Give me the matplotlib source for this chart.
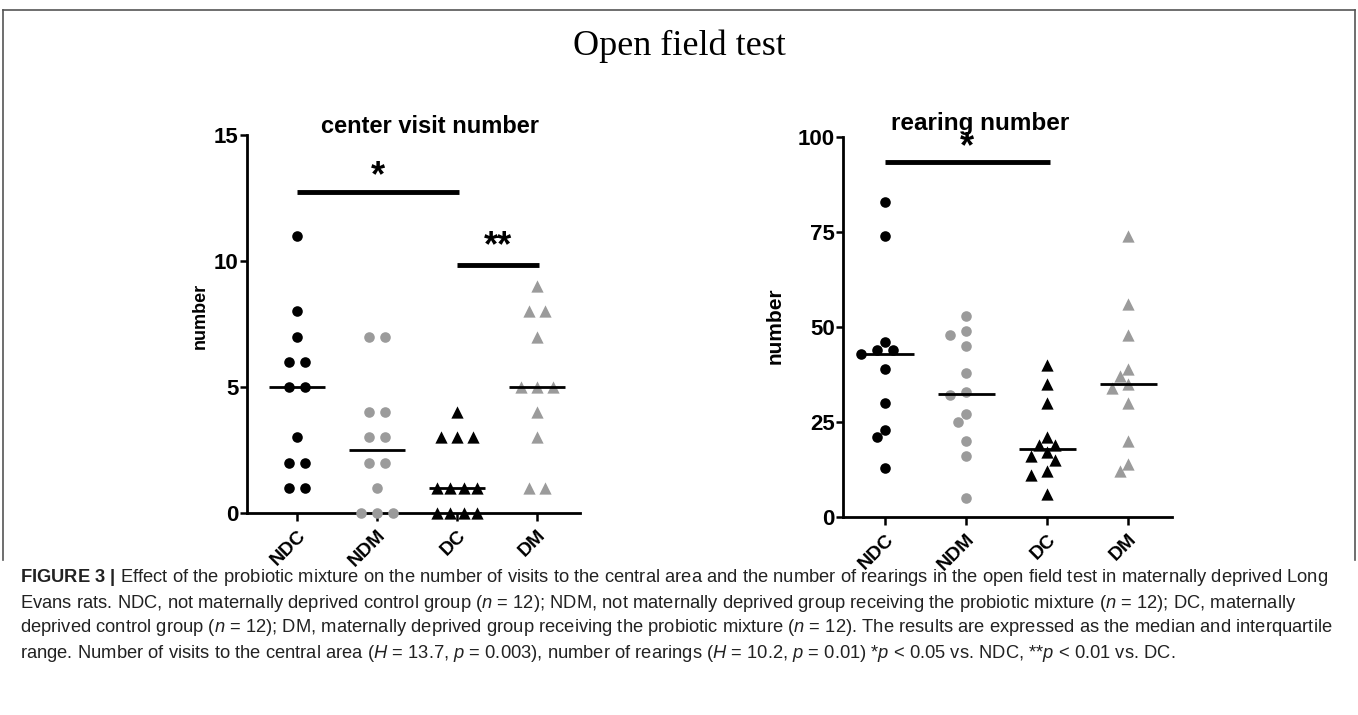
import matplotlib
matplotlib.use("Agg")
import matplotlib.pyplot as plt
import numpy as np
from matplotlib.lines import Line2D

groups = ["NDC", "NDM", "DC", "DM"]

# center visit number, one list per group
center_ndc = [11, 8, 7, 6, 6, 5, 5, 3, 2, 2, 1, 1]
center_ndm = [7, 7, 4, 4, 3, 3, 2, 2, 1, 0, 0, 0]
center_dc = [4, 3, 3, 3, 1, 1, 1, 1, 0, 0, 0, 0]
center_dm = [9, 8, 8, 7, 5, 5, 5, 4, 3, 1, 1]

# rearing number
rear_ndc = [83, 74, 46, 44, 44, 43, 39, 30, 23, 21, 13]
rear_ndm = [53, 49, 48, 45, 38, 33, 32, 27, 25, 20, 16, 5]
rear_dc = [40, 35, 30, 21, 19, 19, 17, 16, 15, 12, 11, 6]
rear_dm = [74, 56, 48, 39, 37, 35, 34, 30, 20, 14, 12]

center_ticks = [0, 5, 10, 15]
rear_ticks = [0, 25, 50, 75, 100]

GRAY = "#9b9b9b"
styles = [("o", "black"), ("o", GRAY), ("^", "black"), ("^", GRAY)]

SANS = ["Liberation Sans", "DejaVu Sans"]

plt.rcParams["font.family"] = SANS
plt.rcParams["mathtext.fontset"] = "custom"
plt.rcParams["mathtext.rm"] = "Liberation Sans"
plt.rcParams["mathtext.it"] = "Liberation Sans:italic"
plt.rcParams["mathtext.bf"] = "Liberation Sans:bold"

W, H = 1358, 715
fig = plt.figure(figsize=(W / 100, H / 100), dpi=100)


def px_axes(l, t, r, b):
    return fig.add_axes([l / W, 1 - b / H, (r - l) / W, (b - t) / H])


def swarm(ax, vals, xc, diam=10.0, step=8.0):
    # rows of equal values are centred, then nudged sideways until nothing overlaps
    tr = ax.transData.transform
    unit = tr((1, 0))[0] - tr((0, 0))[0]
    vals = np.asarray(vals, float)
    xs = np.zeros(len(vals))
    placed = []
    for v in sorted(set(vals), reverse=True):
        idx = np.where(vals == v)[0]
        k = len(idx)
        gap = 16.0 if k < 4 else 13.5
        row = (np.arange(k) - (k - 1) / 2) * gap
        py = tr((xc, v))[1]
        for n in range(40):
            shift = (n + 1) // 2 * step * (-1 if n % 2 else 1)
            cand = row + shift
            if all(np.hypot(cx - qx, py - qy) >= diam for cx in cand for qx, qy in placed):
                break
        for i, cx in zip(idx, cand):
            xs[i] = xc + cx / unit
            placed.append((cx, py))
    return xs


def panel(ax, data, ticks, xlim, ylabel_pos, ylabel_size):
    ax.set_xlim(*xlim)
    ax.set_ylim(ticks[0], ticks[-1])
    for s in ("top", "right"):
        ax.spines[s].set_visible(False)
    for s in ("left", "bottom"):
        ax.spines[s].set_linewidth(2)
    ax.set_yticks(ticks)
    ax.set_yticklabels([str(t) for t in ticks], fontsize=16, fontweight="bold")
    ax.set_xticks(range(len(groups)))
    ax.set_xticklabels(groups, rotation=45, ha="right", va="top", rotation_mode="anchor",
                       fontsize=14, fontweight="bold")
    ax.tick_params(axis="y", length=5, width=1.8, pad=1)
    ax.tick_params(axis="x", length=6, width=1.8, pad=4)
    for i, (vals, (mk, col)) in enumerate(zip(data, styles)):
        xs = swarm(ax, vals, i)
        ax.scatter(xs, vals, s=58 if mk == "o" else 78, marker=mk, color=col,
                   linewidths=0, clip_on=False, zorder=3)
        ax.hlines(np.median(vals), i - 0.35, i + 0.35, color="black", lw=2, zorder=4)
    fig.text(ylabel_pos[0] / W, 1 - ylabel_pos[1] / H, "number", rotation=90,
             ha="center", va="center", fontsize=ylabel_size, fontweight="bold")


def sig(ax, x0, x1, y, label, ystar, size):
    ax.plot([x0, x1], [y, y], color="black", lw=3.5, solid_capstyle="butt",
            clip_on=False, zorder=4)
    ax.text((x0 + x1) / 2, ystar, label, ha="center", va="center", fontsize=size,
            fontweight="bold", clip_on=False)


ax1 = px_axes(247, 135, 580, 513)
panel(ax1, [center_ndc, center_ndm, center_dc, center_dm], center_ticks,
      (-0.625, 3.54), (200, 316), 13)
sig(ax1, 0, 2.03, 12.75, "*", 13.35, 26)
sig(ax1, 2, 3.03, 9.85, "**", 10.55, 26)

ax2 = px_axes(843, 137, 1172, 517)
panel(ax2, [rear_ndc, rear_ndm, rear_dc, rear_dm], rear_ticks,
      (-0.52, 3.54), (775, 326), 15)
sig(ax2, 0, 2.03, 93.3, "*", 97.2, 26)

fig.text(430 / W, 1 - 133 / H, "center visit number", ha="center", va="baseline",
         fontsize=17, fontweight="bold")
fig.text(980 / W, 1 - 130 / H, "rearing number", ha="center", va="baseline",
         fontsize=17.5, fontweight="bold")

fig.text(0.5, 1 - 46 / H, "Open field test", ha="center", va="center",
         family=["Liberation Serif", "DejaVu Serif"], fontsize=26)

# frame around the figure image
for xs_, ys_ in [([3, 3], [560, 10]), ([3, 1355], [10, 10]), ([1355, 1355], [10, 560])]:
    fig.add_artist(Line2D([x / W for x in xs_], [1 - y / H for y in ys_],
                          color="#555555", lw=1.2))

caption = [
    r"$\mathbf{FIGURE\ 3\ |}$ Effect of the probiotic mixture on the number of visits to the central "
    r"area and the number of rearings in the open field test in maternally deprived Long",
    r"Evans rats. NDC, not maternally deprived control group ($n$ = 12); NDM, not maternally "
    r"deprived group receiving the probiotic mixture ($n$ = 12); DC, maternally",
    r"deprived control group ($n$ = 12); DM, maternally deprived group receiving the probiotic "
    r"mixture ($n$ = 12). The results are expressed as the median and interquartile",
    r"range. Number of visits to the central area ($H$ = 13.7, $p$ = 0.003), number of rearings "
    r"($H$ = 10.2, $p$ = 0.01) *$p$ < 0.05 vs. NDC, **$p$ < 0.01 vs. DC.",
]
for k, line in enumerate(caption):
    fig.text(20 / W, 1 - (578 + 25 * k) / H, line, ha="left", va="center",
             fontsize=13.2, color="#222222")

fig.savefig("out.png", dpi=100)
